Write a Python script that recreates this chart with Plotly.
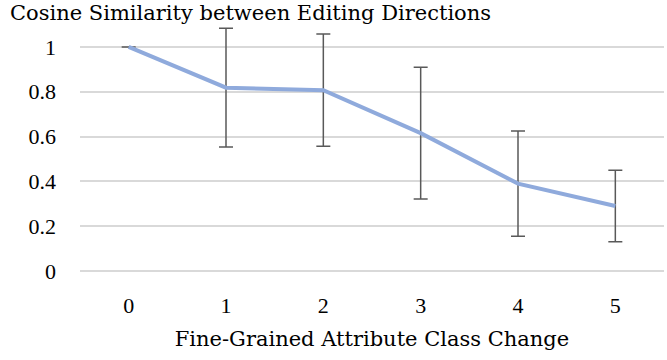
import plotly.graph_objects as go

categories = ["0", "1", "2", "3", "4", "5"]
similarity = [1.0, 0.818, 0.807, 0.615, 0.39, 0.29]
error = [0.0, 0.265, 0.25, 0.294, 0.235, 0.16]
y_ticks = [0, 0.2, 0.4, 0.6, 0.8, 1]
y_tick_labels = ["0", "0.2", "0.4", "0.6", "0.8", "1"]

TICK_FONT = dict(family="Liberation Serif", size=22, color="#000000")
TITLE_FONT = dict(family="DejaVu Serif", size=21, color="#000000")

fig = go.Figure()
fig.add_trace(go.Scatter(
    x=categories, y=similarity, mode="lines",
    line=dict(color="#8FAADC", width=4),
    error_y=dict(type="data", array=error, visible=True,
                 color="#595959", thickness=1.5, width=7),
    showlegend=False,
))

fig.update_layout(
    width=667, height=360,
    margin=dict(l=80, r=3, t=20, b=89, autoexpand=False),
    paper_bgcolor="white", plot_bgcolor="white",
    font=TICK_FONT,
    title=dict(text="Cosine Similarity between Editing Directions",
               xref="container", yref="container",
               x=10/667, xanchor="left", y=1-13/360, yanchor="middle",
               font=TITLE_FONT),
)
fig.update_xaxes(type="category", range=[-0.5, 5.5], showgrid=False,
                 showline=False, zeroline=False, ticks="",
                 ticklabelstandoff=19, automargin=False, tickfont=TICK_FONT,
                 title=dict(text="Fine-Grained Attribute Class Change",
                            font=TITLE_FONT, standoff=14))
fig.update_yaxes(range=[0, 1.12], tickvals=y_ticks, ticktext=y_tick_labels,
                 showgrid=True, gridcolor="#D9D9D9", gridwidth=1.5,
                 zeroline=True, zerolinecolor="#D9D9D9", zerolinewidth=1.5,
                 showline=False, ticks="", ticklabelstandoff=23,
                 automargin=False, tickfont=TICK_FONT)

fig.write_html("out.html", config={"displayModeBar": False},
               post_script="document.body.style.margin='0';document.body.style.padding='0';")
